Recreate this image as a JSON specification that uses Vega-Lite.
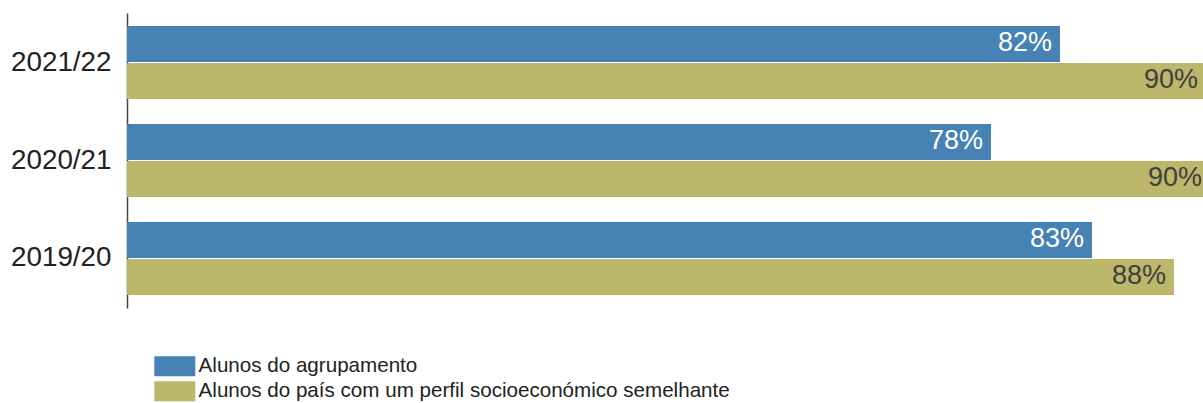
{
  "$schema": "https://vega.github.io/schema/vega-lite/v6.json",
  "autosize": {"type": "none"},
  "width": 1076,
  "height": 295,
  "padding": {"left": 127, "top": 13, "right": 0, "bottom": 95},
  "background": "white",
  "config": {"view": {"stroke": null}, "font": "Liberation Sans"},
  "data": {
    "values": [
      {"ano": "2021/22", "grupo": "Alunos do agrupamento", "valor": 0.8163},
      {"ano": "2021/22", "grupo": "Alunos do país com um perfil socioeconómico semelhante", "valor": 0.8952},
      {"ano": "2020/21", "grupo": "Alunos do agrupamento", "valor": 0.779},
      {"ano": "2020/21", "grupo": "Alunos do país com um perfil socioeconómico semelhante", "valor": 0.8974},
      {"ano": "2019/20", "grupo": "Alunos do agrupamento", "valor": 0.8336},
      {"ano": "2019/20", "grupo": "Alunos do país com um perfil socioeconómico semelhante", "valor": 0.8779}
    ]
  },
  "encoding": {
    "y": {
      "field": "ano", "type": "nominal",
      "sort": ["2021/22", "2020/21", "2019/20"],
      "scale": {"paddingInner": 0.255, "paddingOuter": 0.133},
      "axis": {
        "title": null, "ticks": false, "domain": true, "domainColor": "#444", "domainWidth": 1.5,
        "labelFontSize": 27.8, "labelColor": "#222", "labelPadding": 16, "labelFont": "Liberation Sans"
      }
    },
    "yOffset": {
      "field": "grupo", "type": "nominal",
      "scale": {"domain": ["Alunos do agrupamento", "Alunos do país com um perfil socioeconómico semelhante"], "paddingInner": 0.03}
    },
    "x": {
      "field": "valor", "type": "quantitative",
      "scale": {"domain": [0.312, 0.8936], "zero": false, "nice": false},
      "axis": null
    }
  },
  "layer": [
    {
      "mark": {"type": "bar", "clip": true},
      "encoding": {
        "color": {
          "field": "grupo", "type": "nominal",
          "scale": {
            "domain": ["Alunos do agrupamento", "Alunos do país com um perfil socioeconómico semelhante"],
            "range": ["#4682B4", "#BDB76B"]
          },
          "legend": {
            "title": null, "orient": "none", "legendX": 37.5, "legendY": 343, "padding": 0,
            "symbolType": "M-2.05,-1H2.05V1H-2.05Z", "symbolSize": 400, "symbolStrokeWidth": 0,
            "symbolOpacity": 1,
            "labelFontSize": 20.6, "labelFont": "Liberation Sans", "labelColor": "#222", "labelLimit": 800,
            "labelOffset": 13.5, "rowPadding": 4
          }
        }
      }
    },
    {
      "mark": {"type": "text", "align": "right", "baseline": "middle", "dx": -8, "dy": -1, "fontSize": 27, "font": "Liberation Sans"},
      "encoding": {
        "text": {"field": "valor", "type": "quantitative", "format": ".0%"},
        "color": {
          "condition": {"test": "datum.grupo == 'Alunos do agrupamento'", "value": "#ffffff"},
          "value": "#404040"
        }
      }
    }
  ]
}
